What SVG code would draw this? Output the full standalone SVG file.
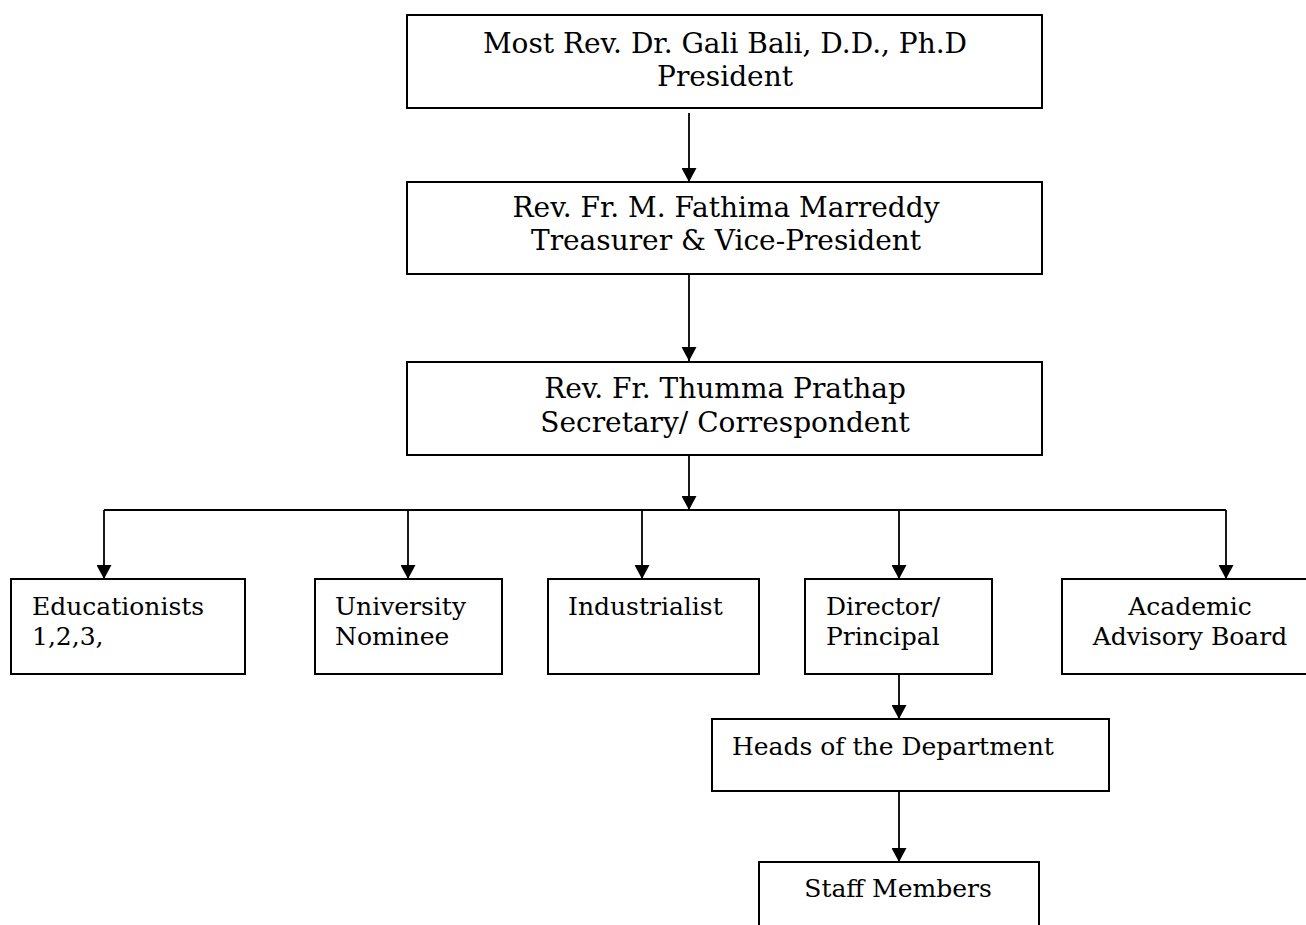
<svg xmlns="http://www.w3.org/2000/svg" width="1306" height="925" viewBox="0 0 1306 925">
<defs>
<marker id="arr" markerUnits="userSpaceOnUse" markerWidth="15" markerHeight="15" refX="14" refY="7.5" orient="auto">
<path d="M0,0 L14,7.5 L0,15 Z" fill="#000"/>
</marker>
<style>
.box{fill:#fff;stroke:#000;stroke-width:2}
.t{font-family:"DejaVu Serif","Liberation Serif",serif;fill:#000}
.big{font-size:28px}
.sm{font-size:25px}
.c{text-anchor:middle}
.ln{fill:none;stroke:#000;stroke-width:1.8}
</style>
</defs>
<rect width="1306" height="925" fill="#fff"/>
<g id="connectors">
<line class="ln" x1="689" y1="113" x2="689" y2="182" marker-end="url(#arr)"/>
<line class="ln" x1="689" y1="274" x2="689" y2="361" marker-end="url(#arr)"/>
<line class="ln" x1="689" y1="455" x2="689" y2="510" marker-end="url(#arr)"/>
<polyline class="ln" points="104,510 1226,510"/>
<line class="ln" x1="104" y1="510" x2="104" y2="579" marker-end="url(#arr)"/>
<line class="ln" x1="408" y1="510" x2="408" y2="579" marker-end="url(#arr)"/>
<line class="ln" x1="642" y1="510" x2="642" y2="579" marker-end="url(#arr)"/>
<line class="ln" x1="899" y1="510" x2="899" y2="579" marker-end="url(#arr)"/>
<line class="ln" x1="1226" y1="510" x2="1226" y2="579" marker-end="url(#arr)"/>
<line class="ln" x1="899" y1="673" x2="899" y2="719" marker-end="url(#arr)"/>
<line class="ln" x1="899" y1="791" x2="899" y2="862" marker-end="url(#arr)"/>
</g>
<g id="president">
<rect class="box" x="407" y="15" width="635" height="93"/>
<text class="t big c" x="725" y="53">Most Rev. Dr. Gali Bali, D.D., Ph.D</text>
<text class="t big c" x="725" y="86">President</text>
</g>
<g id="treasurer">
<rect class="box" x="407" y="182" width="635" height="92"/>
<text class="t big c" x="726" y="217">Rev. Fr. M. Fathima Marreddy</text>
<text class="t big c" x="726" y="250">Treasurer &amp; Vice-President</text>
</g>
<g id="secretary">
<rect class="box" x="407" y="362" width="635" height="93"/>
<text class="t big c" x="725" y="398">Rev. Fr. Thumma Prathap</text>
<text class="t big c" x="725" y="432">Secretary/ Correspondent</text>
</g>
<g id="educationists">
<rect class="box" x="11" y="579" width="234" height="95"/>
<text class="t sm" x="32" y="615">Educationists</text>
<text class="t sm" x="32" y="645">1,2,3,</text>
</g>
<g id="university">
<rect class="box" x="315" y="579" width="187" height="95"/>
<text class="t sm" x="335" y="615">University</text>
<text class="t sm" x="335" y="645">Nominee</text>
</g>
<g id="industrialist">
<rect class="box" x="548" y="579" width="211" height="95"/>
<text class="t sm" x="568" y="615">Industrialist</text>
</g>
<g id="director">
<rect class="box" x="805" y="579" width="187" height="95"/>
<text class="t sm" x="826" y="615">Director/</text>
<text class="t sm" x="826" y="645">Principal</text>
</g>
<g id="academic">
<rect class="box" x="1062" y="579" width="250" height="95"/>
<text class="t sm c" x="1190" y="615">Academic</text>
<text class="t sm c" x="1190" y="645">Advisory Board</text>
</g>
<g id="heads">
<rect class="box" x="712" y="719" width="397" height="72"/>
<text class="t sm" x="732" y="755">Heads of the Department</text>
</g>
<g id="staff">
<rect class="box" x="759" y="862" width="280" height="80"/>
<text class="t sm c" x="898" y="897">Staff Members</text>
</g>
</svg>
